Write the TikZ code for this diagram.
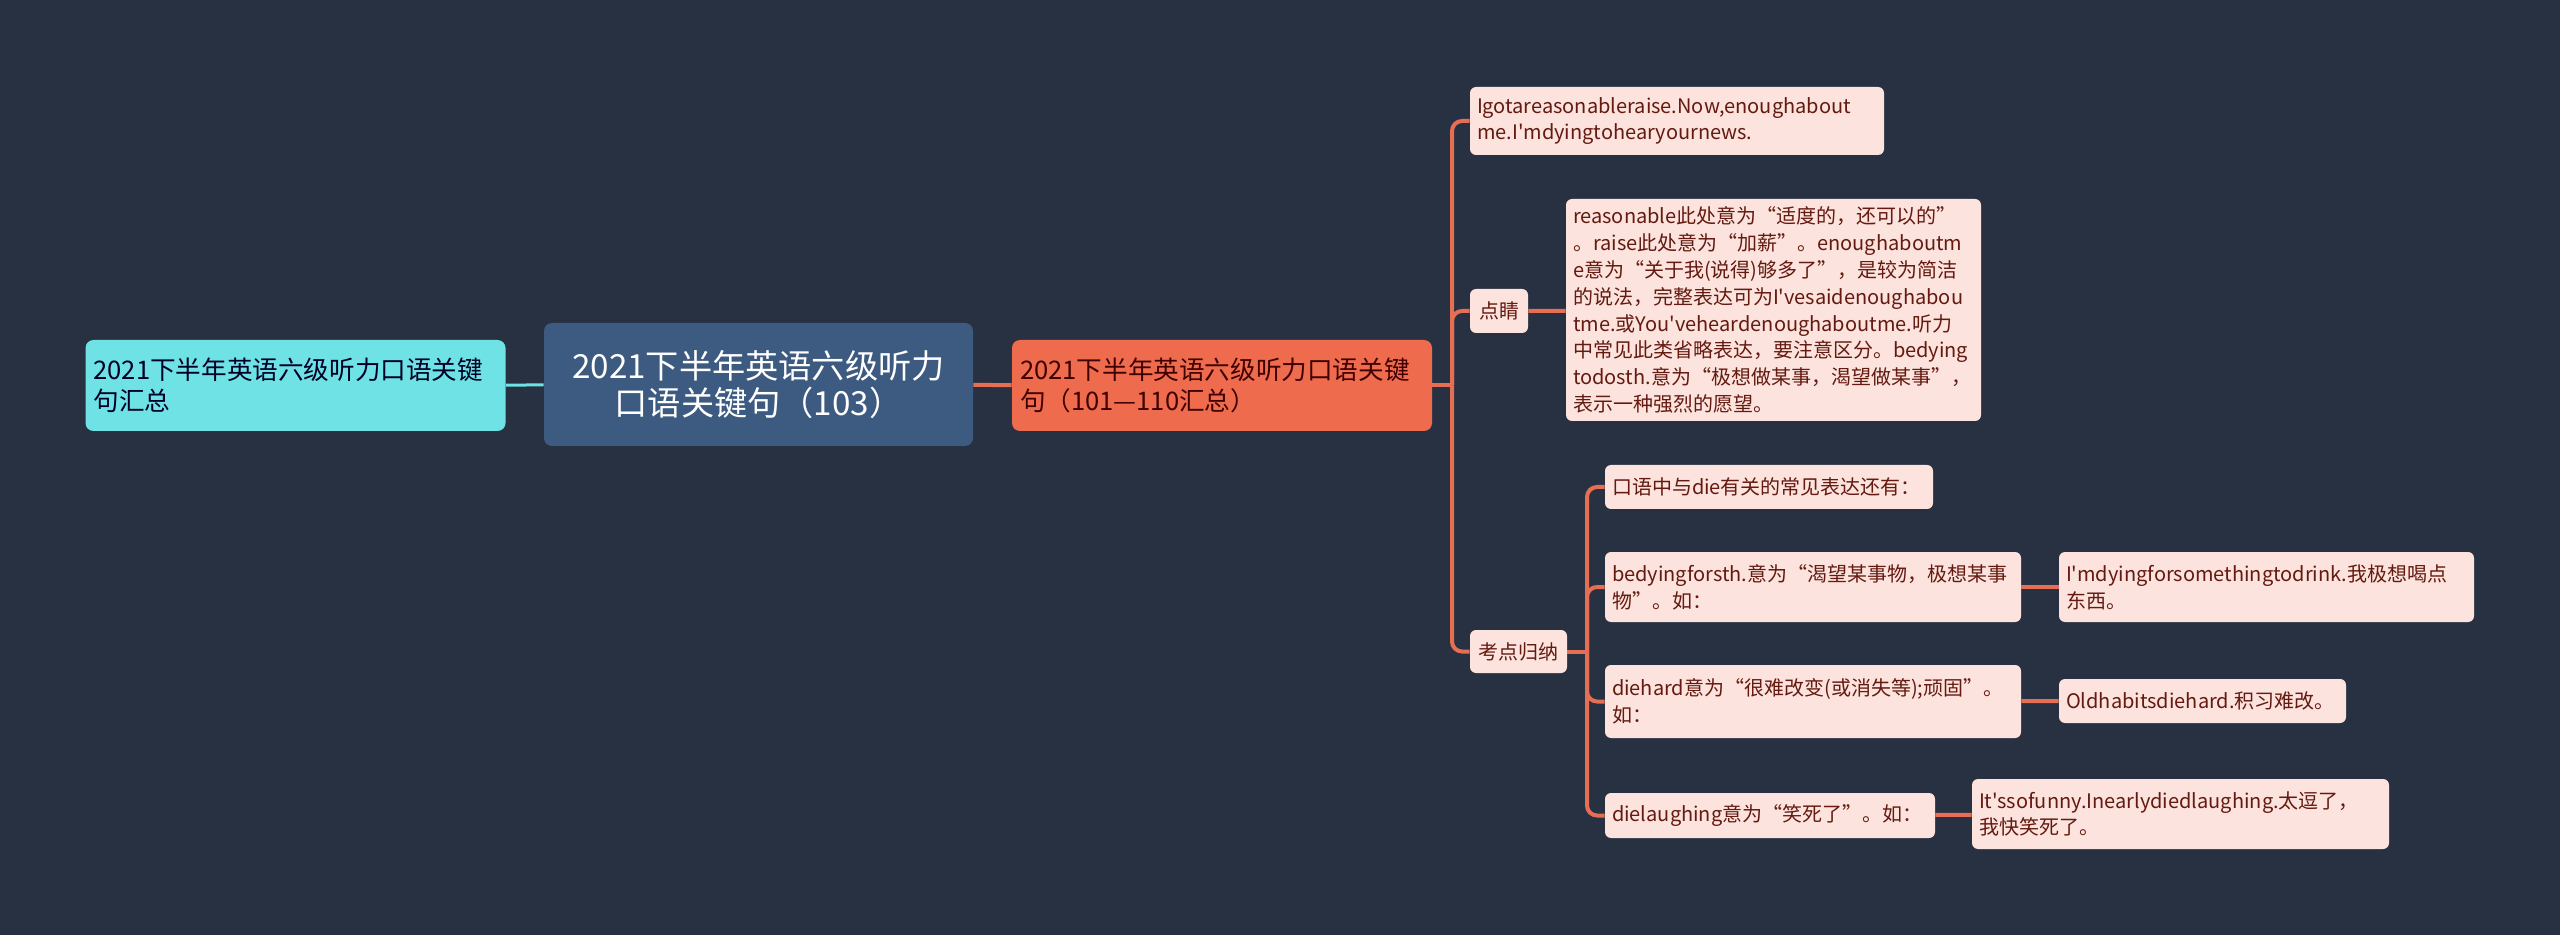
\documentclass[tikz,border=0pt]{standalone}
\usepackage{fontspec}
\setmainfont{Noto Sans CJK SC}[Ligatures=TeXOff]
\usepackage{tikz}
\usetikzlibrary{positioning}
\usepackage{xcolor}

\definecolor{bgnavy}{HTML}{283141}
\definecolor{rootblue}{HTML}{3D5A80}
\definecolor{sidecyan}{HTML}{6EE2E4}
\definecolor{mainorange}{HTML}{EE6C4D}
\definecolor{leafpink}{HTML}{FCE3DD}
\definecolor{leaftext}{HTML}{641A10}
\definecolor{linkorange}{HTML}{E66E55}

\begin{document}
\begin{tikzpicture}[
    x=0.5pt,
    y=-0.5pt,
    rootbox/.style={rectangle, fill=rootblue, text=white, rounded corners=4pt, align=center, inner xsep=6pt, font=\fontsize{16.6}{18.8}\selectfont},
    topic/.style={rectangle, rounded corners=4pt, align=left, inner xsep=4pt, font=\fontsize{12.8}{15.5}\selectfont},
    leaf/.style={rectangle, fill=leafpink, text=leaftext, rounded corners=3pt, align=left, inner xsep=3.5pt, font=\fontsize{10}{13.4}\selectfont},
    link/.style={draw=linkorange, line width=2pt, rounded corners=5pt}
]

% Background
\fill[bgnavy] (0,0) rectangle (2560,935);

% Centre and first level
\node [rootbox, minimum width=214.5pt, minimum height=61.5pt] (root) at (758.5,384.5) {2021下半年英语六级听力\\口语关键句（103）};
\node [topic, fill=sidecyan, text=black!85!blue, text width=202pt, minimum height=45.5pt] (summary) at (295.5,385.5) {2021下半年英语六级听力口语关键\\句汇总};
\node [topic, fill=mainorange, text=black!75!red, text width=202pt, minimum height=45.5pt] (keys) at (1222,385.5) {2021下半年英语六级听力口语关键\\句（101—110汇总）};

\draw[draw=sidecyan, line width=1.5pt] (summary) -- (root);
\draw[link] (root) -- (keys);

% Second level
\node [leaf, text width=200pt, minimum height=34pt] (sentence) at (1677,121) {Igotareasonableraise.Now,enoughabout\\me.I'mdyingtohearyournews.};
\node [leaf, minimum height=22pt, minimum width=29pt] (dianjing) at (1499,311) {点睛};
\node [leaf, minimum height=21.5pt, minimum width=48.5pt] (kaodian) at (1518.5,651.5) {考点归纳};

\coordinate (spine) at (1452,385.5);
\draw[link] (keys.east) -- (spine);
\foreach \child in {sentence, dianjing, kaodian}
    \draw[link] (spine) |- (\child.west);

% Notes
\node [leaf, text width=200.5pt, minimum height=111pt] (notes) at (1773.5,310) {reasonable此处意为“适度的，还可以的”\\。raise此处意为“加薪”。enoughaboutm\\e意为“关于我(说得)够多了”，是较为简洁\\的说法，完整表达可为I'vesaidenoughabou\\tme.或You'veheardenoughaboutme.听力\\中常见此类省略表达，要注意区分。bedying\\todosth.意为“极想做某事，渴望做某事”，\\表示一种强烈的愿望。};
\draw[link] (dianjing) -- (notes);

% Third level
\node [leaf, text width=157pt, minimum height=22pt] (common) at (1769,487) {口语中与die有关的常见表达还有：};
\node [leaf, text width=201pt, minimum height=35pt] (dyingfor) at (1813,587) {bedyingforsth.意为“渴望某事物，极想某事\\物”。如：};
\node [leaf, text width=201pt, minimum height=36.5pt] (diehard) at (1813,701.5) {diehard意为“很难改变(或消失等);顽固”。\\如：};
\node [leaf, text width=158pt, minimum height=22.5pt] (laughing) at (1770,815.5) {dielaughing意为“笑死了”。如：};

\coordinate (subspine) at (1587,651.5);
\draw[link] (kaodian.east) -- (subspine);
\foreach \child in {common, dyingfor, diehard, laughing}
    \draw[link] (subspine) |- (\child.west);

% Examples
\node [leaf, text width=200.5pt, minimum height=35pt] (drink) at (2266.5,587) {I'mdyingforsomethingtodrink.我极想喝点\\东西。};
\node [leaf, text width=136.5pt, minimum height=22pt] (habits) at (2202.5,701) {Oldhabitsdiehard.积习难改。};
\node [leaf, text width=201.5pt, minimum height=35pt] (funny) at (2180.5,814) {It'ssofunny.Inearlydiedlaughing.太逗了，\\我快笑死了。};

\draw[link] (dyingfor) -- (drink);
\draw[link] (diehard) -- (habits);
\draw[link] (laughing) -- (funny);

\end{tikzpicture}
\end{document}
